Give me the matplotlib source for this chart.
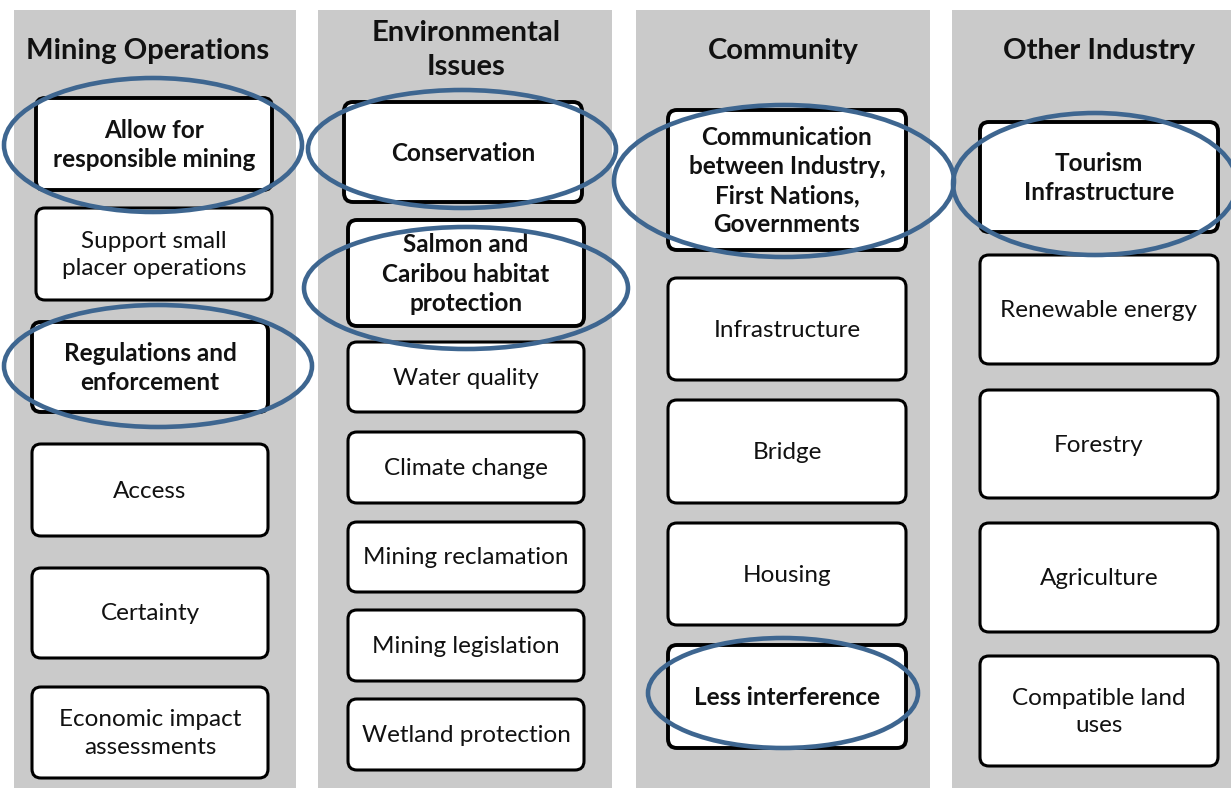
import matplotlib
matplotlib.use("Agg")
import matplotlib.pyplot as plt
from matplotlib.patches import FancyBboxPatch, Rectangle, Ellipse

# ---- data ----
categories = ["Mining Operations", "Environmental\nIssues", "Community", "Other Industry"]
mining_items = ["Allow for\nresponsible mining", "Support small\nplacer operations",
                "Regulations and\nenforcement", "Access", "Certainty",
                "Economic impact\nassessments"]
env_items = ["Conservation", "Salmon and\nCaribou habitat\nprotection", "Water quality",
             "Climate change", "Mining reclamation", "Mining legislation",
             "Wetland protection"]
community_items = ["Communication\nbetween Industry,\nFirst Nations,\nGovernments",
                   "Infrastructure", "Bridge", "Housing", "Less interference"]
other_items = ["Tourism\nInfrastructure", "Renewable energy", "Forestry",
               "Agriculture", "Compatible land\nuses"]
items = [mining_items, env_items, community_items, other_items]
# priority flags (circled / bold)
mining_priority = [1, 0, 1, 0, 0, 0]
env_priority = [1, 1, 0, 0, 0, 0, 0]
community_priority = [1, 0, 0, 0, 1]
other_priority = [1, 0, 0, 0, 0]
priorities = [mining_priority, env_priority, community_priority, other_priority]

# ---- layout (pixels) ----
W, H = 1231, 788
col_x = [(14, 296), (318, 612), (636, 930), (952, 1231)]
title_x = [148, 466, 783, 1099]
title_y = [51, 50, 51, 51]
box_x = [[(36, 272), (36, 272), (32, 268), (32, 268), (32, 268), (32, 268)],
         [(344, 582), (348, 584), (348, 584), (348, 584), (348, 584), (348, 584), (348, 584)],
         [(668, 906)] * 5,
         [(980, 1218)] * 5]
box_y = [[(98, 190), (208, 300), (322, 412), (444, 536), (568, 658), (687, 778)],
         [(102, 202), (220, 326), (342, 412), (432, 503), (522, 592), (610, 681), (699, 770)],
         [(110, 250), (278, 380), (400, 503), (523, 625), (645, 748)],
         [(122, 232), (255, 364), (390, 498), (523, 632), (656, 766)]]
ellipses = [[(153, 145, 298, 134), None, (158, 366, 308, 122)],
            [(462, 149, 308, 118), (466, 288, 324, 122)],
            [(784, 181, 340, 152), None, None, None, (783, 693, 270, 110)],
            [(1095, 184, 284, 142)]]

plt.rcParams['font.family'] = ['Lato', 'DejaVu Sans']
fig = plt.figure(figsize=(W / 100, H / 100), dpi=100)
ax = fig.add_axes([0, 0, 1, 1])
ax.set_xlim(0, W)
ax.set_ylim(H, 0)
ax.axis('off')

gray = '#CACACA'
ecol = '#3E6690'
for c, (x0, x1) in enumerate(col_x):
    ax.add_patch(Rectangle((x0, 10), x1 - x0, H - 10, facecolor=gray, edgecolor='none', zorder=0))
    ax.text(title_x[c], title_y[c], categories[c], ha='center', va='center',
            fontsize=21, fontweight='bold', color='#111111', linespacing=1.38, zorder=5)
    for i, label in enumerate(items[c]):
        bx0, bx1 = box_x[c][i]
        by0, by1 = box_y[c][i]
        pr = priorities[c][i]
        ax.add_patch(FancyBboxPatch((bx0, by0), bx1 - bx0, by1 - by0,
                                    boxstyle="round,pad=0,rounding_size=9",
                                    facecolor='white', edgecolor='black',
                                    linewidth=2.8 if pr else 2.2, zorder=2))
        ax.text((bx0 + bx1) / 2, (by0 + by1) / 2 + 1, label, ha='center', va='center',
                fontsize=17.5, fontweight='bold' if pr else 'normal',
                color='#111111', linespacing=1.32 if pr else 1.38, zorder=5)

for col in ellipses:
    for e in col:
        if e is None:
            continue
        cx, cy, w, h = e
        ax.add_patch(Ellipse((cx, cy), w, h, facecolor='none', edgecolor=ecol,
                             linewidth=3.3, zorder=6))

fig.savefig('out.png', dpi=100)
